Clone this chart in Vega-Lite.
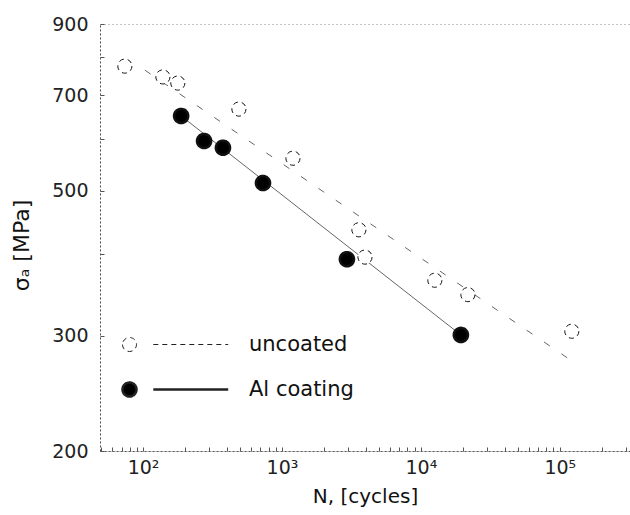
{
  "$schema": "https://vega.github.io/schema/vega-lite/v6.json",
  "width": 530,
  "height": 427,
  "autosize": {"type": "none"},
  "padding": {"left": 100, "top": 24, "right": 0, "bottom": 64},
  "background": "white",
  "config": {
    "font": "DejaVu Sans",
    "view": {"stroke": "#888", "strokeDash": [1, 3], "strokeWidth": 1}
  },
  "layer": [
    {
      "data": {
        "values": [
          {"N": 103, "S": 765},
          {"N": 118000, "S": 276}
        ]
      },
      "mark": {"type": "line", "color": "#666", "strokeWidth": 1, "strokeDash": [7, 14]},
      "encoding": {
        "x": {"field": "N", "type": "quantitative"},
        "y": {"field": "S", "type": "quantitative"}
      }
    },
    {
      "data": {
        "values": [
          {"N": 188, "S": 651},
          {"N": 19400, "S": 301}
        ]
      },
      "mark": {"type": "line", "color": "#666", "strokeWidth": 1},
      "encoding": {
        "x": {"field": "N", "type": "quantitative"},
        "y": {"field": "S", "type": "quantitative"}
      }
    },
    {
      "data": {
        "values": [
          {"N": 74, "S": 776, "series": "uncoated"},
          {"N": 139, "S": 747, "series": "uncoated"},
          {"N": 178, "S": 731, "series": "uncoated"},
          {"N": 490, "S": 667, "series": "uncoated"},
          {"N": 1200, "S": 561, "series": "uncoated"},
          {"N": 3580, "S": 436, "series": "uncoated"},
          {"N": 3960, "S": 396, "series": "uncoated"},
          {"N": 12600, "S": 365, "series": "uncoated"},
          {"N": 21800, "S": 347, "series": "uncoated"},
          {"N": 122000, "S": 305, "series": "uncoated"},
          {"N": 188, "S": 651, "series": "Al coating"},
          {"N": 275, "S": 596, "series": "Al coating"},
          {"N": 376, "S": 582, "series": "Al coating"},
          {"N": 730, "S": 514, "series": "Al coating"},
          {"N": 2935, "S": 393, "series": "Al coating"},
          {"N": 19400, "S": 301, "series": "Al coating"}
        ]
      },
      "mark": {"type": "point", "shape": "circle", "size": 200, "stroke": "#111", "opacity": 1},
      "encoding": {
        "x": {
          "field": "N",
          "type": "quantitative",
          "scale": {"type": "log", "domain": [49, 320000], "nice": false},
          "axis": {
            "title": "N, [cycles]",
            "titleFontSize": 20,
            "titleFontWeight": "normal",
            "titleColor": "#111",
            "titlePadding": 9,
            "values": [50, 60, 70, 80, 90, 100, 200, 300, 400, 500, 600, 700, 800, 900, 1000, 2000, 3000, 4000, 5000, 6000, 7000, 8000, 9000, 10000, 20000, 30000, 40000, 50000, 60000, 70000, 80000, 90000, 100000, 200000, 300000],
            "labelExpr": "datum.value == 100 ? '10²' : datum.value == 1000 ? '10³' : datum.value == 10000 ? '10⁴' : datum.value == 100000 ? '10⁵' : ''",
            "labelFontSize": 19,
            "labelColor": "#222",
            "labelPadding": 11,
            "tickSize": -4,
            "tickColor": "#555",
            "domainColor": "#555",
            "domainDash": [2, 2],
            "grid": false,
            "labelFlush": false,
            "labelOverlap": false
          }
        },
        "y": {
          "field": "S",
          "type": "quantitative",
          "scale": {"type": "log", "domain": [200, 900], "nice": false},
          "axis": {
            "title": "σₐ [MPa]",
            "titleFontSize": 22,
            "titleFontWeight": "normal",
            "titleColor": "#111",
            "titlePadding": 18,
            "titleY": 221,
            "values": [200, 300, 400, 500, 600, 700, 800, 900],
            "labelExpr": "(datum.value == 400 || datum.value == 600 || datum.value == 800) ? '' : datum.label",
            "labelFontSize": 19,
            "labelColor": "#222",
            "labelPadding": 16,
            "tickSize": -4,
            "tickColor": "#555",
            "domainColor": "#555",
            "domainDash": [2, 2],
            "grid": false,
            "labelOverlap": false
          }
        },
        "strokeDash": {
          "field": "series",
          "type": "nominal",
          "scale": {"domain": ["uncoated", "Al coating"], "range": [[5, 4], [1, 0]]}
        },
        "strokeWidth": {
          "field": "series",
          "type": "nominal",
          "scale": {"domain": ["uncoated", "Al coating"], "range": [1, 2.5]}
        },
        "fill": {
          "field": "series",
          "type": "nominal",
          "scale": {"domain": ["uncoated", "Al coating"], "range": ["white", "black"]},
          "legend": {
            "title": null,
            "orient": "none",
            "legendX": 19,
            "legendY": 310,
            "padding": 0,
            "symbolType": "M -1 0 A 1 1 0 1 0 1 0 A 1 1 0 1 0 -1 0 M 3.4 0 L 14.1 0",
            "symbolSize": 196,
            "symbolStrokeColor": "#222",
            "labelFontSize": 21,
            "labelColor": "#111",
            "labelOffset": 109,
            "rowPadding": 22
          }
        }
      }
    }
  ]
}
